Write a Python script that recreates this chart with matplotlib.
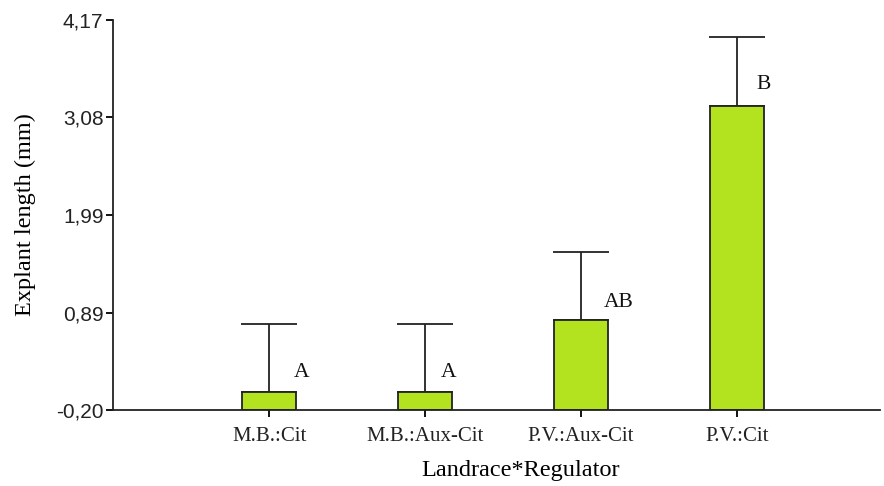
import matplotlib
matplotlib.use("Agg")
import matplotlib.pyplot as plt
import numpy as np

categories = ["M.B.:Cit", "M.B.:Aux-Cit", "P.V.:Aux-Cit", "P.V.:Cit"]
means = [0.00, 0.00, 0.81, 3.21]
upper_err = [0.76, 0.76, 0.76, 0.77]
letters = ["A", "A", "AB", "B"]
yticks = [-0.20, 0.89, 1.99, 3.08, 4.17]
ytick_labels = ["-0,20", "0,89", "1,99", "3,08", "4,17"]
baseline = -0.20

fig = plt.figure(figsize=(8.84, 4.86), dpi=100)
ax = fig.add_axes([0.128, 0.1564, 0.868, 0.8024])

x = np.arange(len(categories))
heights = [m - baseline for m in means]
ax.bar(x, heights, bottom=baseline, width=0.35, color="#b3e21f",
       edgecolor="#222222", linewidth=1.3, zorder=2)
ax.errorbar(x, means, yerr=[np.zeros(len(means)), upper_err], fmt="none",
            ecolor="#222222", elinewidth=1.3, capsize=20, capthick=1.3, zorder=1)

letter_dx = [0.21, 0.15, 0.24, 0.17]
letter_dy = [0.22, 0.22, 0.19, 0.24]
for xi, m, l, dx, dy in zip(x, means, letters, letter_dx, letter_dy):
    ax.text(xi + dx, m + dy, l, family="Liberation Serif", fontsize=15.5,
            ha="center", va="center", color="#111111")

ax.set_xlim(-1.0, 3.92)
ax.set_ylim(-0.20, 4.17)
ax.set_yticks(yticks)
ax.set_yticklabels(ytick_labels, family="Liberation Sans", fontsize=15, color="#222222")
ax.set_xticks(x)
ax.set_xticklabels(categories, family="Liberation Serif", fontsize=15, color="#222222")
ax.tick_params(axis="y", direction="out", length=5, width=1.3, pad=2)
ax.tick_params(axis="x", direction="out", length=5, width=1.3, pad=7)
for s in ["top", "right"]:
    ax.spines[s].set_visible(False)
for s in ["left", "bottom"]:
    ax.spines[s].set_linewidth(1.3)
    ax.spines[s].set_color("#222222")

ax.set_ylabel("Explant length (mm)", family="Liberation Serif", fontsize=17.5, labelpad=14)
ax.set_xlabel("Landrace*Regulator", family="Liberation Serif", fontsize=17.5)
ax.xaxis.set_label_coords(0.531, -0.128)

fig.savefig("out.png", dpi=100)
